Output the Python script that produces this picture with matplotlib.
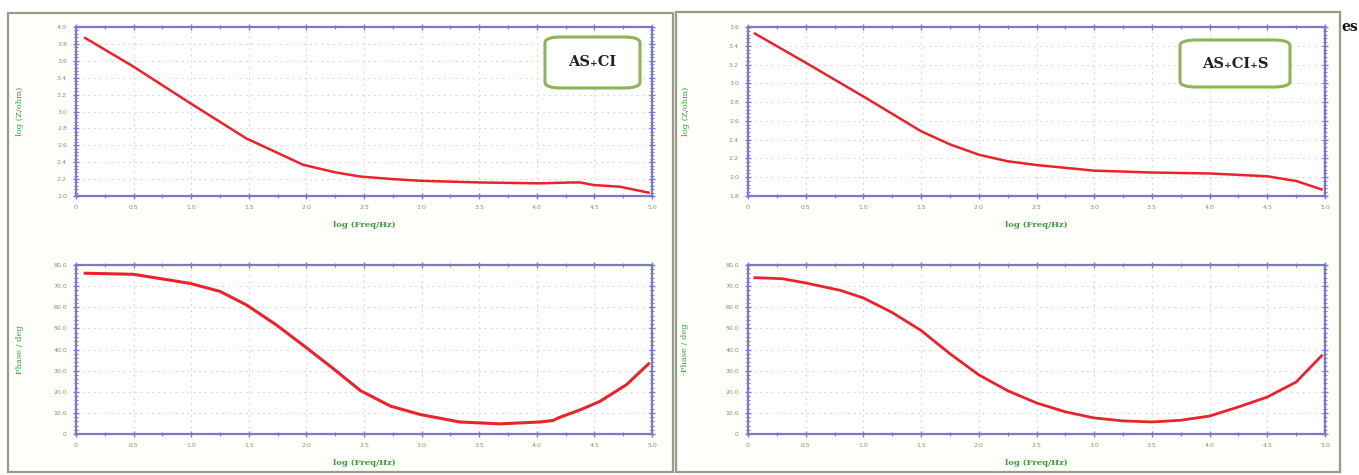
import matplotlib
matplotlib.use("Agg")
import matplotlib.pyplot as plt
from matplotlib.patches import FancyBboxPatch, Rectangle
from matplotlib.ticker import MultipleLocator
import numpy as np

# ---------------- data ----------------
# AS+CI : log|Z| vs log f
f_z1 = [0.08, 0.50, 0.99, 1.48, 1.75, 1.97, 2.25, 2.47, 2.75, 2.99, 3.51, 4.03, 4.30, 4.38, 4.49, 4.72, 4.97]
z1   = [3.87, 3.53, 3.10, 2.68, 2.51, 2.37, 2.28, 2.23, 2.20, 2.18, 2.16, 2.15, 2.16, 2.16, 2.13, 2.11, 2.04]
# AS+CI : -phase vs log f
f_p1 = [0.08, 0.50, 0.99, 1.25, 1.48, 1.74, 1.97, 2.23, 2.47, 2.73, 2.99, 3.33, 3.68, 4.03, 4.14, 4.20, 4.38, 4.55, 4.78, 4.97]
p1   = [76.1, 75.6, 71.3, 67.5, 61.1, 51.6, 42.1, 31.1, 20.5, 13.2, 9.2, 5.7, 4.8, 5.7, 6.4, 7.9, 11.5, 15.5, 23.4, 33.2]
# AS+CI+S : log|Z| vs log f
f_z2 = [0.06, 0.50, 1.00, 1.50, 1.75, 2.00, 2.25, 2.50, 3.00, 3.50, 4.00, 4.50, 4.75, 4.97]
z2   = [3.53, 3.22, 2.86, 2.49, 2.35, 2.24, 2.17, 2.13, 2.07, 2.05, 2.04, 2.01, 1.96, 1.87]
# AS+CI+S : -phase vs log f
f_p2 = [0.06, 0.30, 0.50, 0.80, 1.00, 1.25, 1.50, 1.75, 2.00, 2.25, 2.50, 2.75, 3.00, 3.25, 3.50, 3.75, 4.00, 4.25, 4.50, 4.75, 4.97]
p2   = [74.0, 73.5, 71.5, 68.0, 64.4, 57.5, 49.0, 38.0, 28.0, 20.5, 14.7, 10.5, 7.6, 6.2, 5.7, 6.5, 8.5, 12.8, 17.5, 24.6, 37.0]

x_ticks = [0, 0.5, 1.0, 1.5, 2.0, 2.5, 3.0, 3.5, 4.0, 4.5, 5.0]
x_tick_labels = ["0", "0.5", "1.0", "1.5", "2.0", "2.5", "3.0", "3.5", "4.0", "4.5", "5.0"]
z1_ticks = [2.0, 2.2, 2.4, 2.6, 2.8, 3.0, 3.2, 3.4, 3.6, 3.8, 4.0]
z2_ticks = [1.8, 2.0, 2.2, 2.4, 2.6, 2.8, 3.0, 3.2, 3.4, 3.6]
p_ticks = [0, 10, 20, 30, 40, 50, 60, 70, 80]
p_tick_labels = ["0", "10.0", "20.0", "30.0", "40.0", "50.0", "60.0", "70.0", "80.0"]
labels = ["AS\u208aCI", "AS\u208aCI\u208aS"]
ylabel_z = "log (Z/ohm)"
ylabel_p = ["Phase / deg", "-Phase / deg"]
xlabel = "log (Freq/Hz)"

# ---------------- figure ----------------
W, H = 1359, 475
fig = plt.figure(figsize=(W / 100, H / 100), dpi=100)
fig.patch.set_facecolor("white")

def fr(x0, y0, x1, y1):
    return [x0 / W, 1 - y1 / H, (x1 - x0) / W, (y1 - y0) / H]

# panel frames (behind the axes)
for (x0, y0, x1, y1) in [(8, 13, 673, 472), (676, 12, 1340, 472)]:
    fig.patches.append(Rectangle((x0 / W, 1 - y1 / H), (x1 - x0) / W, (y1 - y0) / H,
                                 transform=fig.transFigure, fill=True, facecolor="#fffffb",
                                 edgecolor="#9a9a8a", linewidth=1.6, zorder=-10))

spine_c = "#7878cc"
line_c = "#e8232b"
tick_c = "#8a8a8a"
lab_c = "#3a9a3a"

def style(ax, yticks, ylabels, ylim, ylab, minor_y, ylpad):
    ax.set_facecolor("white")
    ax.set_xlim(0, 5.0)
    ax.set_ylim(*ylim)
    ax.set_xticks(x_ticks)
    ax.set_xticklabels(x_tick_labels)
    ax.set_yticks(yticks)
    ax.set_yticklabels(ylabels)
    ax.xaxis.set_minor_locator(MultipleLocator(0.25))
    ax.yaxis.set_minor_locator(MultipleLocator(minor_y))
    for s in ax.spines.values():
        s.set_color(spine_c)
        s.set_linewidth(1.6)
    ax.tick_params(which="both", direction="inout", colors=spine_c, labelcolor=tick_c,
                   labelsize=4.5, top=True, right=True, pad=4)
    ax.tick_params(which="major", length=5, width=1.0)
    ax.tick_params(which="minor", length=3, width=0.8)
    ax.grid(True, which="major", color="#d8d8d8", linestyle=(0, (2, 4)), linewidth=0.7)
    ax.set_xlabel(xlabel, fontsize=6, color=lab_c, family="DejaVu Serif", fontweight="bold", labelpad=8)
    ax.set_ylabel(ylab, fontsize=6, color=lab_c, family="DejaVu Serif", labelpad=ylpad)

def legend_box(fig, x0, y0, x1, y1, text):
    fig.patches.append(FancyBboxPatch((x0 / W, 1 - y1 / H), (x1 - x0) / W, (y1 - y0) / H,
                                      boxstyle="round,pad=0,rounding_size=0.012",
                                      transform=fig.transFigure, facecolor="white",
                                      edgecolor="#8fb356", linewidth=2.2, zorder=5))
    fig.text((x0 + x1) / 2 / W, 1 - (y0 + y1) / 2 / H, text, ha="center", va="center",
             fontsize=10.5, fontweight="bold", family="DejaVu Serif", color="#222222", zorder=6)

# left top
ax1 = fig.add_axes(fr(76, 27, 652, 196))
ax1.plot(f_z1, z1, color=line_c, lw=1.8)
style(ax1, z1_ticks, [f"{v:.1f}" for v in z1_ticks], (2.0, 4.0), ylabel_z, 0.04, 24)

# left bottom
ax2 = fig.add_axes(fr(76, 265, 652, 434))
ax2.plot(f_p1, p1, color=line_c, lw=2.2)
style(ax2, p_ticks, p_tick_labels, (0, 80), ylabel_p[0], 2, 21)

# right top
ax3 = fig.add_axes(fr(748, 27, 1325, 196))
ax3.plot(f_z2, z2, color=line_c, lw=1.8)
style(ax3, z2_ticks, [f"{v:.1f}" for v in z2_ticks], (1.8, 3.6), ylabel_z, 0.04, 28)

# right bottom
ax4 = fig.add_axes(fr(748, 265, 1325, 434))
ax4.plot(f_p2, p2, color=line_c, lw=2.0)
style(ax4, p_ticks, p_tick_labels, (0, 80), ylabel_p[1], 2, 26)

legend_box(fig, 545, 37, 640, 88, labels[0])
legend_box(fig, 1180, 40, 1290, 87, labels[1])

fig.text(1341 / W, 1 - 27 / H, "es", ha="left", va="center", fontsize=10,
         fontweight="bold", family="DejaVu Serif", color="#111111")

fig.savefig("out.png", dpi=100)
